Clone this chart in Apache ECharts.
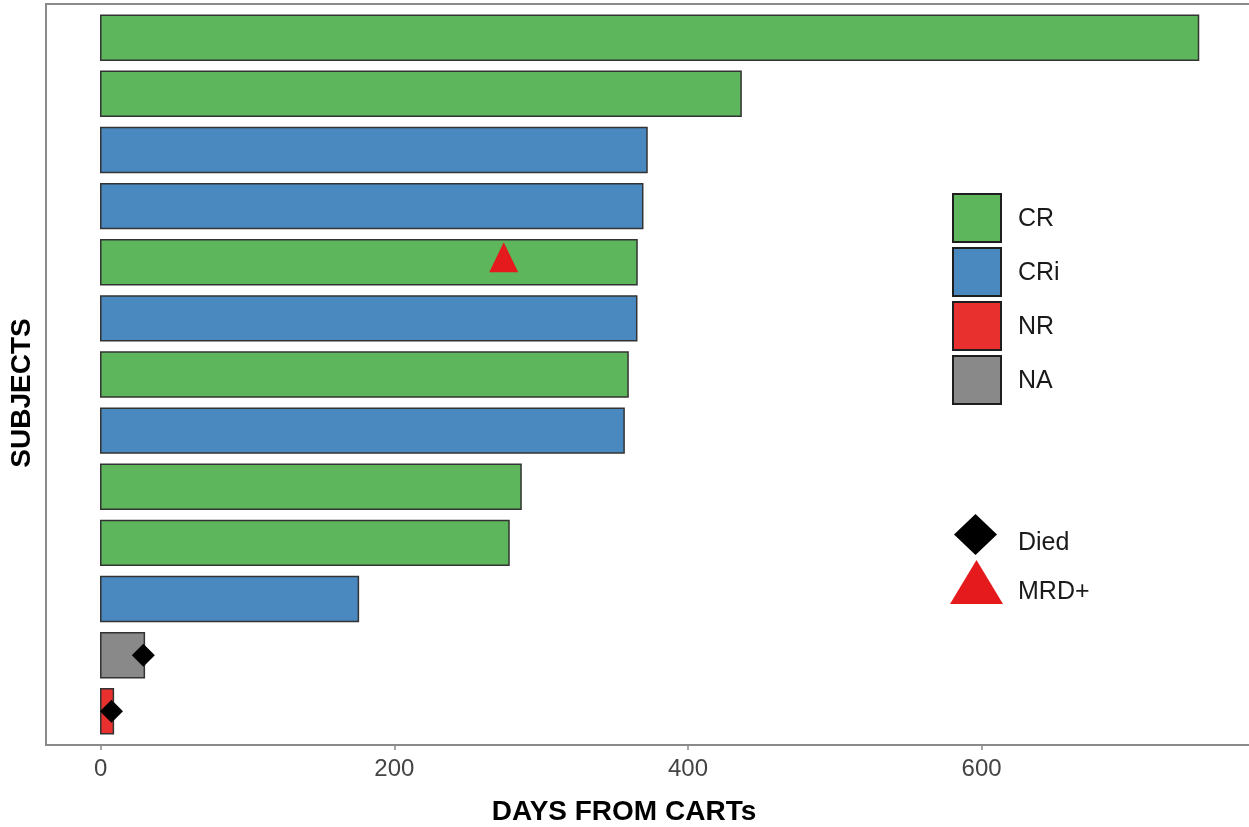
<!DOCTYPE html>
<html>
<head>
<meta charset="utf-8">
<title>Swimmer plot</title>
<script src="https://cdn.jsdelivr.net/npm/echarts@6/dist/echarts.min.js"></script>
<style>
  html, body { margin: 0; padding: 0; background: #ffffff; }
  #chart { width: 1249px; height: 827px; }
</style>
</head>
<body>
<div id="chart"></div>
<script>
// Subjects, top to bottom, with follow-up duration (days) and best response
const subjectIds = [1, 2, 3, 4, 5, 6, 7, 8, 9, 10, 11, 12, 13];
const daysFromCart = [747.8, 436.2, 372.1, 369.2, 365.3, 365.1, 359.2, 356.5, 286.3, 278.1, 175.5, 29.7, 8.6];
const responses = ['CR', 'CR', 'CRi', 'CRi', 'CR', 'CRi', 'CR', 'CRi', 'CR', 'CR', 'CRi', 'NA', 'NR'];

// Event markers
const diedSubjects = [12, 13];
const diedDays = [29.0, 7.3];
const mrdSubjects = [5];
const mrdDays = [274.5];

// Response categories and axis ticks
const responseCategories = ['CR', 'CRi', 'NR', 'NA'];
const xTicks = [0, 200, 400, 600];

const responseColors = { CR: '#5db65b', CRi: '#4a89bf', NR: '#e8302e', NA: '#898989' };
const FONT = 'Liberation Sans, Arial, sans-serif';
const BORDER_GRAY = '#8a8a8a';

const chart = echarts.init(document.getElementById('chart'), null, { renderer: 'canvas' });

function renderSwimBar(params, api) {
  const subj = api.value(1);
  const val = api.value(0);
  const start = api.coord([0, subj]);
  const end = api.coord([val, subj]);
  const h = api.size([0, 0.8])[1];
  return {
    type: 'rect',
    shape: { x: start[0], y: start[1] - h / 2, width: end[0] - start[0], height: h },
    style: { fill: api.visual('color'), stroke: '#333333', lineWidth: 1.5 }
  };
}

const barSeries = responseCategories.map(function (cat) {
  const data = [];
  subjectIds.forEach(function (id, i) {
    if (responses[i] === cat) data.push([daysFromCart[i], id]);
  });
  return {
    name: cat,
    type: 'custom',
    renderItem: renderSwimBar,
    itemStyle: { color: responseColors[cat] },
    encode: { x: 0, y: 1 },
    data: data,
    z: 2
  };
});

const diedData = diedSubjects.map(function (s, i) { return [diedDays[i], s]; });
const mrdData = mrdSubjects.map(function (s, i) { return [mrdDays[i], s]; });

const legendText = { color: '#1a1a1a', fontSize: 25, fontFamily: FONT };

function shiftedLegendText(top, left) {
  return Object.assign({
    rich: { t: Object.assign({ padding: [top, 0, 0, left] }, legendText) }
  }, legendText);
}

const option = {
  animation: false,
  backgroundColor: '#ffffff',
  grid: {
    left: 46, top: 4, width: 1213, bottom: 82,
    outerBoundsMode: 'none',
    containLabel: false,
    show: true, borderColor: BORDER_GRAY, borderWidth: 2, backgroundColor: 'transparent'
  },
  xAxis: {
    type: 'value',
    min: -37.3,
    max: 789,
    axisLine: { show: true, onZero: false, lineStyle: { color: BORDER_GRAY, width: 2 } },
    axisTick: { show: true, length: 5, customValues: xTicks, lineStyle: { color: BORDER_GRAY, width: 1.5 } },
    axisLabel: { customValues: xTicks, color: '#444444', fontSize: 24, fontFamily: FONT, margin: 12 },
    splitLine: { show: false }
  },
  yAxis: {
    type: 'value',
    min: 0.4,
    max: 13.6,
    inverse: true,
    axisLine: { show: false, onZero: false },
    axisTick: { show: false },
    axisLabel: { show: false },
    splitLine: { show: false }
  },
  legend: [
    {
      orient: 'vertical',
      left: 952, top: 193, padding: 0,
      itemWidth: 48, itemHeight: 48, itemGap: 4,
      selectedMode: false,
      formatter: '{t|{name}}',
      textStyle: shiftedLegendText(2, 12),
      data: responseCategories.map(function (c) {
        return { name: c, icon: 'rect', itemStyle: { color: responseColors[c], borderColor: '#1e1e1e', borderWidth: 2, opacity: 1 } };
      })
    },
    {
      orient: 'vertical',
      left: 954, top: 514, padding: 0,
      itemWidth: 43, itemHeight: 41,
      selectedMode: false,
      formatter: '{t|{name}}',
      textStyle: shiftedLegendText(18, 16),
      data: [{ name: 'Died', icon: 'diamond', itemStyle: { color: '#000000', opacity: 1 } }]
    },
    {
      orient: 'vertical',
      left: 950, top: 560, padding: 0,
      itemWidth: 53, itemHeight: 44,
      selectedMode: false,
      formatter: '{t|{name}}',
      textStyle: shiftedLegendText(20, 10),
      data: [{ name: 'MRD+', icon: 'triangle', itemStyle: { color: '#e41a1c', opacity: 1 } }]
    }
  ],
  graphic: [
    {
      type: 'text',
      x: 624, y: 812,
      style: {
        text: 'DAYS FROM CARTs', fill: '#000000',
        font: 'bold 28px ' + FONT, align: 'center', verticalAlign: 'middle'
      }
    },
    {
      type: 'text',
      x: 22, y: 393, rotation: Math.PI / 2,
      style: {
        text: 'SUBJECTS', fill: '#000000',
        font: 'bold 28px ' + FONT, align: 'center', verticalAlign: 'middle'
      }
    }
  ],
  series: barSeries.concat([
    {
      name: 'Died',
      type: 'scatter',
      symbol: 'diamond',
      symbolSize: [23, 23],
      itemStyle: { color: '#000000', opacity: 1 },
      data: diedData,
      z: 5
    },
    {
      name: 'MRD+',
      type: 'scatter',
      symbol: 'triangle',
      symbolSize: [29, 30],
      symbolOffset: [0, -5],
      itemStyle: { color: '#e41a1c', opacity: 1 },
      data: mrdData,
      z: 5
    }
  ])
};

chart.setOption(option);
</script>
</body>
</html>
